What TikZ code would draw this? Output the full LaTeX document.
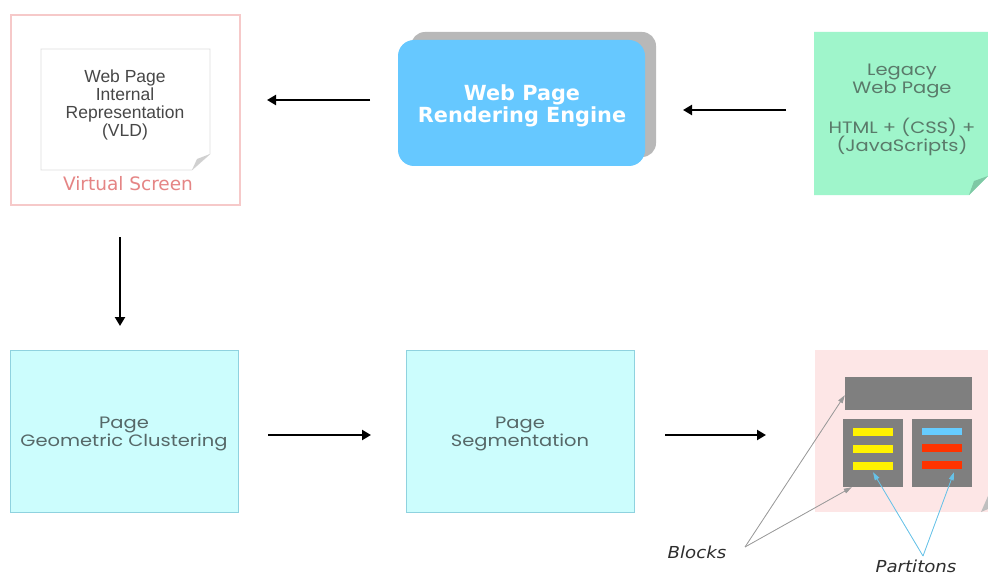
\documentclass[tikz,border=0pt]{standalone}
\usepackage{fontspec}
\setmainfont{Liberation Sans}
\newfontfamily\widesans{DejaVu Sans}
\newfontfamily\calloutsans[FakeStretch=1.1]{DejaVu Sans}
\newfontfamily\roundsans[FakeStretch=1.18]{Poppins}
\usetikzlibrary{arrows.meta}
\definecolor{vsborder}{HTML}{F6C9C9}
\definecolor{vstext}{HTML}{E58585}
\definecolor{papergray}{HTML}{DDDDDD}
\definecolor{engblue}{HTML}{66C8FF}
\definecolor{engshadow}{HTML}{B8B8B8}
\definecolor{legacygreen}{HTML}{9FF5CB}
\definecolor{legacytext}{HTML}{5A7A6A}
\definecolor{legacyfold}{HTML}{7FC8A5}
\definecolor{stepfill}{HTML}{CCFDFD}
\definecolor{stepborder}{HTML}{8FD2DF}
\definecolor{steptext}{HTML}{566868}
\definecolor{layoutpink}{HTML}{FDE6E6}
\definecolor{blockgray}{HTML}{7F7F7F}
\definecolor{baryellow}{HTML}{FFF200}
\definecolor{barblue}{HTML}{66CCFF}
\definecolor{barred}{HTML}{FF3300}
\definecolor{pointergray}{HTML}{9A9A9A}
\definecolor{pointerblue}{HTML}{66C2E8}
\tikzset{
  flow/.style={line width=2.8pt,-{Triangle[length=9pt,width=10pt]}},
  stepbox/.style={draw=stepborder,fill=stepfill,line width=0.8pt,
    minimum width=228pt,minimum height=162pt},
  steplabel/.style={align=center,text=steptext,font=\roundsans\fontsize{16.5}{18.5}\selectfont},
  blockbox/.style={fill=blockgray,inner sep=0pt},
  bar/.style={inner sep=0pt,minimum width=40pt,minimum height=8pt},
  pointer/.style={line width=0.8pt,-{Triangle[length=8pt,width=5pt]}},
  callout/.style={font=\calloutsans\itshape\fontsize{16.5}{18}\selectfont,text=black!82},
}
\begin{document}
\begin{tikzpicture}[x=1pt,y=-1pt]
\useasboundingbox[fill=white] (0,0) rectangle (988,575);

% --- Virtual screen with its internal representation sheet
\node[draw=vsborder,line width=2pt,minimum width=229pt,minimum height=190pt,inner sep=0pt]
  (vs) at (125,110) {};
\filldraw[draw=papergray,fill=white,line width=0.6pt]
  (41,49) -- (210,49) -- (210,154) -- (192,170) -- (41,170) -- cycle;
\fill[papergray!80!black!60] (210,154) -- (192,170) -- (197,159) -- cycle;
\node[align=center,text=black!72,font=\fontsize{17.5}{18}\selectfont] (vld) at (125,105)
  {Web Page\\Internal\\Representation\\(VLD)};
\node[text=vstext,font=\widesans\fontsize{18.5}{19}\selectfont] (vslabel) at (128,184) {Virtual Screen};

% --- Rendering engine
\fill[engshadow,rounded corners=14pt] (411,32) rectangle (656,157);
\node[fill=engblue,rounded corners=16pt,minimum width=247pt,minimum height=126pt]
  (eng) at (521.5,103) {};
\node[align=center,text=white,font=\widesans\bfseries\fontsize{20.8}{22}\selectfont]
  (engtext) at (522,106) {Web Page\\Rendering Engine};

% --- Legacy web page note
\fill[legacygreen] (814,32) -- (988,32) -- (988,176) -- (969,195) -- (814,195) -- cycle;
\fill[legacyfold] (988,176) -- (969,195) -- (974,181) -- cycle;
\node[align=center,text=legacytext,font=\roundsans\fontsize{16.5}{18.5}\selectfont] (legacy) at (902,110)
  {Legacy\\Web Page\\[18.5pt]HTML + (CSS) +\\(JavaScripts)};

% --- Processing steps
\node[stepbox] (geo) at (124,431) {};
\node[steplabel] (geotext) at (124,434) {Page\\Geometric Clustering};
\node[stepbox] (seg) at (520,431) {};
\node[steplabel] (segtext) at (520,434) {Page\\Segmentation};

% --- Segmented page layout
\fill[layoutpink] (815,350) rectangle (988,512);
\fill[black!25] (988,496) -- (981,512) -- (988,509) -- cycle;
\node[blockbox,minimum width=127pt,minimum height=33pt] (top) at (908.5,393.5) {};
\node[blockbox,minimum width=60pt,minimum height=68pt] (left) at (873,453) {};
\node[blockbox,minimum width=60pt,minimum height=68pt] (right) at (942,453) {};
\node[bar,fill=baryellow] (y1) at (873,432) {};
\node[bar,fill=baryellow] (y2) at (873,449) {};
\node[bar,fill=baryellow] (y3) at (873,466) {};
\node[bar,fill=barblue,minimum height=7pt] (b1) at (942,431.5) {};
\node[bar,fill=barred] (r1) at (942,448) {};
\node[bar,fill=barred] (r2) at (942,465) {};

\node[callout] (blocks) at (697,552) {Blocks};
\node[callout] (parts) at (916,566) {Partitons};

\coordinate (bk) at (745,547);
\coordinate (pt) at (923,556);
\draw[pointer,draw=pointergray,fill=pointergray] (bk) -- ([yshift=15pt]top.south west);
\draw[pointer,draw=pointergray,fill=pointergray] (bk) -- ([xshift=9pt]left.south west);
\draw[pointer,draw=pointerblue,fill=pointerblue] (pt) -- ([yshift=-2pt]y3.south);
\draw[pointer,draw=pointerblue,fill=pointerblue] (pt) -- ([yshift=-3pt,xshift=12pt]r2.south);

% --- Flow arrows
\coordinate (a1s) at (370,100); \coordinate (a1e) at (267,100);
\coordinate (a2s) at (786,110); \coordinate (a2e) at (683,110);
\coordinate (a3s) at (120,237); \coordinate (a3e) at (120,326);
\coordinate (a4s) at (268,435); \coordinate (a4e) at (371,435);
\coordinate (a5s) at (665,435); \coordinate (a5e) at (766,435);
\draw[flow] (a1s) -- (a1e);
\draw[flow] (a2s) -- (a2e);
\draw[flow] (a3s) -- (a3e);
\draw[flow] (a4s) -- (a4e);
\draw[flow] (a5s) -- (a5e);
\end{tikzpicture}
\end{document}
